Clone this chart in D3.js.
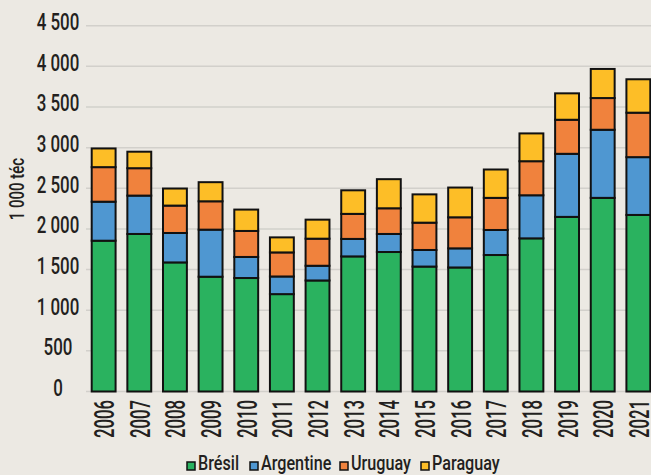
<!DOCTYPE html>
<html>
<head>
<meta charset="utf-8">
<script src="https://cdn.jsdelivr.net/npm/d3@7"></script>
<style>
  html, body { margin: 0; padding: 0; background: #ece9e3; }
  svg { display: block; }
  text { font-family: Roboto, "Liberation Sans", Arial, sans-serif; font-weight: 500; fill: #231f20; }
</style>
</head>
<body>
<svg id="chart" width="651" height="475"></svg>
<script>
var years = ["2006","2007","2008","2009","2010","2011","2012","2013","2014","2015","2016","2017","2018","2019","2020","2021"];
var bresil    = [1855, 1938, 1588, 1412, 1396, 1198, 1366, 1662, 1716, 1537, 1526, 1679, 1884, 2148, 2382, 2172];
var argentine = [ 480,  472,  362,  579,  259,  217,  181,  215,  222,  204,  235,  308,  530,  776,  838,  711];
var uruguay   = [ 425,  337,  337,  349,  320,  296,  333,  308,  316,  336,  382,  395,  419,  419,  390,  547];
var paraguay  = [ 230,  203,  210,  235,  263,  185,  234,  290,  358,  348,  366,  349,  342,  325,  358,  411];
var seriesNames = ["Brésil", "Argentine", "Uruguay", "Paraguay"];
var colors = ["#2ab25f", "#4f97d1", "#f0823d", "#fdbe27"];
var yTicks = [0, 500, 1000, 1500, 2000, 2500, 3000, 3500, 4000, 4500];

var rows = years.map(function(y, i) {
  return { year: y, "Brésil": bresil[i], "Argentine": argentine[i], "Uruguay": uruguay[i], "Paraguay": paraguay[i] };
});

var svg = d3.select("#chart");

var x = d3.scaleBand()
  .domain(years)
  .range([86, 656])
  .paddingInner(0.33)
  .paddingOuter(0.16);

var y = d3.scaleLinear()
  .domain([0, 4500])
  .range([391.5, 25.7]);

var fmt = function(v) { return d3.format(",")(v).replace(",", " "); };

// gridlines
svg.append("g")
  .selectAll("line")
  .data(yTicks)
  .join("line")
    .attr("x1", 86)
    .attr("x2", 651)
    .attr("y1", d => y(d))
    .attr("y2", d => y(d))
    .attr("stroke", "#d2d0cb")
    .attr("stroke-width", 1.5);

// y tick labels (condensed by horizontal scaling)
svg.append("g")
  .selectAll("text")
  .data(yTicks)
  .join("text")
    .attr("transform", d => "translate(58," + (y(d) + 4.3) + ") scale(0.72,1)")
    .attr("text-anchor", "middle")
    .style("font-size", "23.5px")
    .text(d => fmt(d));

// y title
svg.append("text")
  .attr("transform", "translate(24,189) rotate(-90) scale(0.75,1)")
  .attr("text-anchor", "middle")
  .style("font-size", "20px")
  .text("1 000 téc");

var stacked = d3.stack().keys(seriesNames)(rows);

svg.append("g")
  .selectAll("g")
  .data(stacked)
  .join("g")
    .attr("fill", (d, i) => colors[i])
  .selectAll("rect")
  .data(d => d)
  .join("rect")
    .attr("x", d => x(d.data.year))
    .attr("y", d => y(d[1]))
    .attr("width", x.bandwidth())
    .attr("height", d => y(d[0]) - y(d[1]))
    .attr("stroke", "#111")
    .attr("stroke-width", 2);

// x labels
svg.append("g")
  .selectAll("text")
  .data(years)
  .join("text")
    .attr("transform", d => "translate(" + (x(d) + x.bandwidth() / 2 + 10.5) + ",400) rotate(-90) scale(0.62,1)")
    .attr("text-anchor", "end")
    .style("font-size", "27px")
    .text(d => d);

// legend
var legendX = [187, 250, 340, 421];
var legend = svg.append("g")
  .selectAll("g")
  .data(seriesNames)
  .join("g")
    .attr("transform", (d, i) => "translate(" + legendX[i] + ",462)");

legend.append("rect")
  .attr("width", 8)
  .attr("height", 8)
  .attr("fill", (d, i) => colors[i])
  .attr("stroke", "#111")
  .attr("stroke-width", 1.5);

legend.append("text")
  .attr("transform", "translate(11,8) scale(0.83,1)")
  .style("font-size", "19.5px")
  .text(d => d);
</script>
</body>
</html>
